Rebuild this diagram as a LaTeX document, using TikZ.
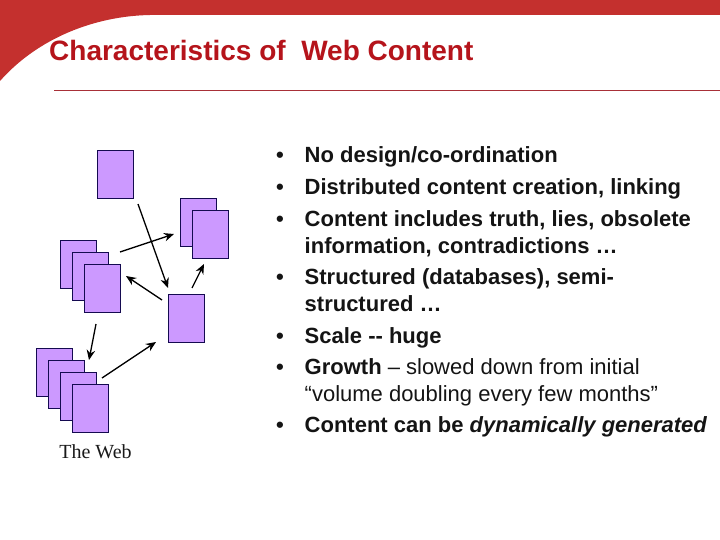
\documentclass[tikz,border=0pt]{standalone}
\usepackage{fontspec}
\setmainfont{Liberation Sans}
\newfontfamily\webfont{Liberation Serif}
\usetikzlibrary{arrows.meta}
\definecolor{banner}{HTML}{C4302E}
\definecolor{titlered}{HTML}{B5141B}
\definecolor{rulered}{HTML}{A83038}
\definecolor{page}{HTML}{CC99FF}
\definecolor{edgeblue}{HTML}{140A50}
\tikzset{
  pagebox/.style={draw=edgeblue,fill=page,line width=0.9pt,minimum width=36pt,minimum height=48pt,inner sep=0pt,anchor=north west},
  link/.style={draw=black,line width=1.3pt,-{Stealth[length=10pt,width=8.5pt]}},
  bodyline/.style={anchor=base west,inner sep=0pt,font=\fontsize{22}{24}\selectfont\bfseries,text=black!92},
  bulletmark/.style={anchor=base west,inner sep=0pt,font=\fontsize{22}{24}\selectfont\bfseries,text=black!92}
}
\begin{document}
\begin{tikzpicture}[x=1pt,y=-1pt]
\useasboundingbox (0,0) rectangle (720,540);
\fill[banner] (0,0) -- (720,0) -- (720,15) -- (150,15) .. controls (95,16) and (38,38) .. (0,81) -- cycle;
\node[anchor=base west,inner sep=0pt,text=titlered,font=\fontsize{28}{30}\selectfont\bfseries] (title) at (49,61) {Characteristics of\ \ Web Content};
\draw[rulered,line width=0.8pt] (54,90) coordinate (ruleL) -- (720,90) coordinate (ruleR);
% pages
\node[pagebox] (top) at (96.5,150) {};
\node[pagebox] (r1) at (180,198) {};
\node[pagebox] (r2) at (192,210) {};
\node[pagebox] (l1) at (60,240) {};
\node[pagebox] (l2) at (72,252) {};
\node[pagebox] (l3) at (84,264) {};
\node[pagebox] (c) at (168,294) {};
\node[pagebox] (b1) at (36,348) {};
\node[pagebox] (b2) at (48,360) {};
\node[pagebox] (b3) at (60,372) {};
\node[pagebox] (b4) at (72,384) {};
% links
\coordinate (a1s) at (138,204); \coordinate (a1e) at (168,288);
\coordinate (a2s) at (120,252); \coordinate (a2e) at (174,234);
\coordinate (a3s) at (162,300); \coordinate (a3e) at (126,276);
\coordinate (a4s) at (192,288); \coordinate (a4e) at (204,264);
\coordinate (a5s) at (96,324);  \coordinate (a5e) at (89,360);
\coordinate (a6s) at (102,378); \coordinate (a6e) at (156,342);
\draw[link] (a1s) -- (a1e);
\draw[link] (a2s) -- (a2e);
\draw[link] (a3s) -- (a3e);
\draw[link] (a4s) -- (a4e);
\draw[link] (a5s) -- (a5e);
\draw[link] (a6s) -- (a6e);
\node[anchor=base,inner sep=0pt,font=\webfont\fontsize{20}{22}\selectfont,text=black!90] (web) at (95.5,458) {The Web};
% text
\foreach \n/\y in {p1/163,p2/195,p3/226,p4/284,p5/343,p6/374,p7/432}
  \node[bulletmark] (\n) at (276,\y) {•};
\node[bodyline] (t1) at (304.5,163) {No design/co-ordination};
\node[bodyline] (t2) at (304.5,195) {Distributed content creation, linking};
\node[bodyline] (t3) at (304.5,226) {Content includes truth, lies, obsolete};
\node[bodyline] (t3b) at (304.5,253) {information, contradictions …};
\node[bodyline] (t4) at (304.5,284) {Structured (databases), semi-};
\node[bodyline] (t4b) at (304.5,311) {structured …};
\node[bodyline] (t5) at (304.5,343) {Scale -{}- huge};
\node[bodyline] (t6) at (304.5,374) {Growth \mdseries – slowed down from initial};
\node[bodyline,font=\fontsize{22}{24}\selectfont\mdseries] (t6b) at (304.5,401) {“volume doubling every few months”};
\node[bodyline] (t7) at (304.5,432) {Content can be \itshape dynamically generated};
\end{tikzpicture}
\end{document}
